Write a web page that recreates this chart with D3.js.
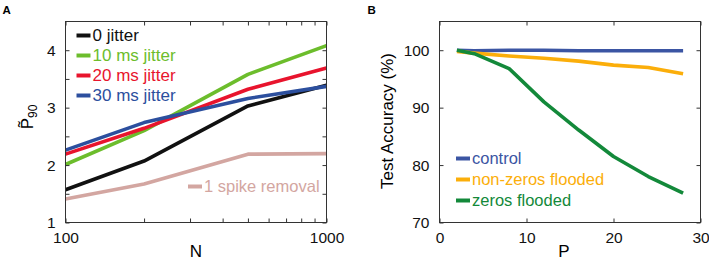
<!DOCTYPE html>
<html>
<head>
<meta charset="utf-8">
<script src="https://cdn.jsdelivr.net/npm/d3@7"></script>
<style>
  body { margin: 0; background: #fff; }
  text { font-family: "Liberation Sans", Arial, Helvetica, sans-serif; }
</style>
</head>
<body>
<div class="chart"></div>
<script>
// panel A data
const nValues = [100, 200, 500, 1000];
const jitter0 = [1.57, 2.07, 3.03, 3.39];
const jitter10 = [2.01, 2.60, 3.58, 4.08];
const jitter20 = [2.19, 2.64, 3.32, 3.69];
const jitter30 = [2.26, 2.74, 3.16, 3.37];
const spikeRemoval = [1.41, 1.67, 2.19, 2.20];
const seriesA = ['0 jitter', '10 ms jitter', '20 ms jitter', '30 ms jitter', '1 spike removal'];
const colorsA = ['#111111', '#6cbd2c', '#e8142d', '#2c4f9e', '#d3a6a1'];

// panel B data
const pValues = [2, 4, 8, 12, 16, 20, 24, 28];
const control = [100, 99.9, 100, 100, 99.9, 99.9, 99.9, 99.9];
const nonZerosFlooded = [99.8, 99.5, 99.0, 98.6, 98.1, 97.4, 97.0, 95.9];
const zerosFlooded = [100, 99.4, 96.8, 91.0, 86.1, 81.5, 78.0, 75.1];
const seriesB = ['control', 'non-zeros flooded', 'zeros flooded'];
const colorsB = ['#3b55a3', '#fbae0a', '#13893a'];

const yTicksA = [1, 1.5, 2, 2.5, 3, 3.5, 4];
const xTicksA = [100, 200, 300, 400, 500, 600, 700, 800, 900, 1000];
const yTicksB = [70, 80, 90, 100];
const xTicksB = [0, 10, 20, 30];

const svg = d3.select('.chart')
  .append('svg')
  .attr('width', 709)
  .attr('height', 269);

// box with inward ticks on all four sides, labels on left and bottom only
function drawFrame(g, x, y, xTicks, yTicks, xFmt, yFmt) {
  const [x0, x1] = x.range();
  const [y0, y1] = y.range();
  const tick = -4;

  g.append('g')
    .attr('transform', `translate(0, ${y0})`)
    .call(d3.axisBottom(x).tickValues(xTicks).tickSize(tick).tickPadding(9.5).tickFormat(xFmt));
  g.append('g')
    .attr('transform', `translate(0, ${y1})`)
    .call(d3.axisTop(x).tickValues(xTicks).tickSize(tick).tickFormat(''));
  g.append('g')
    .attr('transform', `translate(${x0}, 0)`)
    .call(d3.axisLeft(y).tickValues(yTicks).tickSize(tick).tickPadding(10).tickFormat(yFmt));
  g.append('g')
    .attr('transform', `translate(${x1}, 0)`)
    .call(d3.axisRight(y).tickValues(yTicks).tickSize(tick).tickFormat(''));

  g.selectAll('.domain').remove();
  g.selectAll('.tick line').attr('stroke', '#333');
  g.selectAll('.tick text')
    .attr('fill', '#111')
    .style('font-size', '15.5px');

  g.append('rect')
    .attr('x', x0)
    .attr('y', y1)
    .attr('width', x1 - x0)
    .attr('height', y0 - y1)
    .attr('fill', 'none')
    .attr('stroke', '#333')
    .attr('stroke-width', 1);
}

function drawLines(g, x, y, xs, rows, colors) {
  const line = d3.line()
    .x((d, i) => x(xs[i]))
    .y(d => y(d));
  g.selectAll('.series')
    .data(rows)
    .join('path')
    .attr('class', 'series')
    .attr('d', d => line(d))
    .attr('fill', 'none')
    .attr('stroke', (d, i) => colors[i])
    .attr('stroke-width', 3.6)
    .attr('stroke-linejoin', 'round');
}

function legendRow(g, lx, ly, label, color, size) {
  g.append('line')
    .attr('x1', lx).attr('x2', lx + 14)
    .attr('y1', ly).attr('y2', ly)
    .attr('stroke', color)
    .attr('stroke-width', 4);
  g.append('text')
    .attr('x', lx + 16)
    .attr('y', ly)
    .attr('dy', '0.35em')
    .attr('fill', color)
    .style('font-size', size)
    .text(label);
}

// ---- panel A
const xA = d3.scaleLog().domain([100, 1000]).range([65.5, 326.5]);
const yA = d3.scaleLinear().domain([1, 4.5]).range([222.5, 21.5]);
const panelA = svg.append('g');

drawLines(panelA, xA, yA, nValues,
  [jitter0, jitter10, jitter20, jitter30, spikeRemoval], colorsA);
drawFrame(panelA, xA, yA, xTicksA, yTicksA,
  d => (d === 100 || d === 1000) ? d : '',
  d => Number.isInteger(d) ? d : '');

seriesA.slice(0, 4).forEach((s, i) => {
  legendRow(panelA, 76.5, 35.5 + i * 20, s, colorsA[i], '17px');
});
legendRow(panelA, 188, 186.5, seriesA[4], colorsA[4], '16.5px');

panelA.append('text')
  .attr('x', (xA.range()[0] + xA.range()[1]) / 2)
  .attr('y', 257)
  .attr('text-anchor', 'middle')
  .style('font-size', '17px')
  .text('N');

const yLabelA = panelA.append('text')
  .attr('transform', 'translate(33, 117) rotate(-90)')
  .attr('text-anchor', 'middle')
  .style('font-size', '17px');
yLabelA.append('tspan').text('P\u0303');
yLabelA.append('tspan')
  .attr('dy', 4)
  .style('font-size', '12px')
  .text('90');

panelA.append('text')
  .attr('x', 2.5)
  .attr('y', 14)
  .style('font-size', '11.5px')
  .style('font-weight', 'bold')
  .text('A');

// ---- panel B
const xB = d3.scaleLinear().domain([0, 30]).range([439.5, 700.5]);
const yB = d3.scaleLinear().domain([70, 105]).range([222.5, 21.5]);
const panelB = svg.append('g');

drawLines(panelB, xB, yB, pValues,
  [control, nonZerosFlooded, zerosFlooded], colorsB);
drawFrame(panelB, xB, yB, xTicksB, yTicksB, d => d, d => d);

seriesB.forEach((s, i) => {
  legendRow(panelB, 456, 158.5 + i * 21, s, colorsB[i], '16.5px');
});

panelB.append('text')
  .attr('x', (xB.range()[0] + xB.range()[1]) / 2 - 6)
  .attr('y', 257)
  .attr('text-anchor', 'middle')
  .style('font-size', '17px')
  .text('P');

panelB.append('text')
  .attr('transform', 'translate(393, 121) rotate(-90)')
  .attr('text-anchor', 'middle')
  .style('font-size', '17px')
  .text('Test Accuracy (%)');

panelB.append('text')
  .attr('x', 367.5)
  .attr('y', 13.5)
  .style('font-size', '11.5px')
  .style('font-weight', 'bold')
  .text('B');
</script>
</body>
</html>
